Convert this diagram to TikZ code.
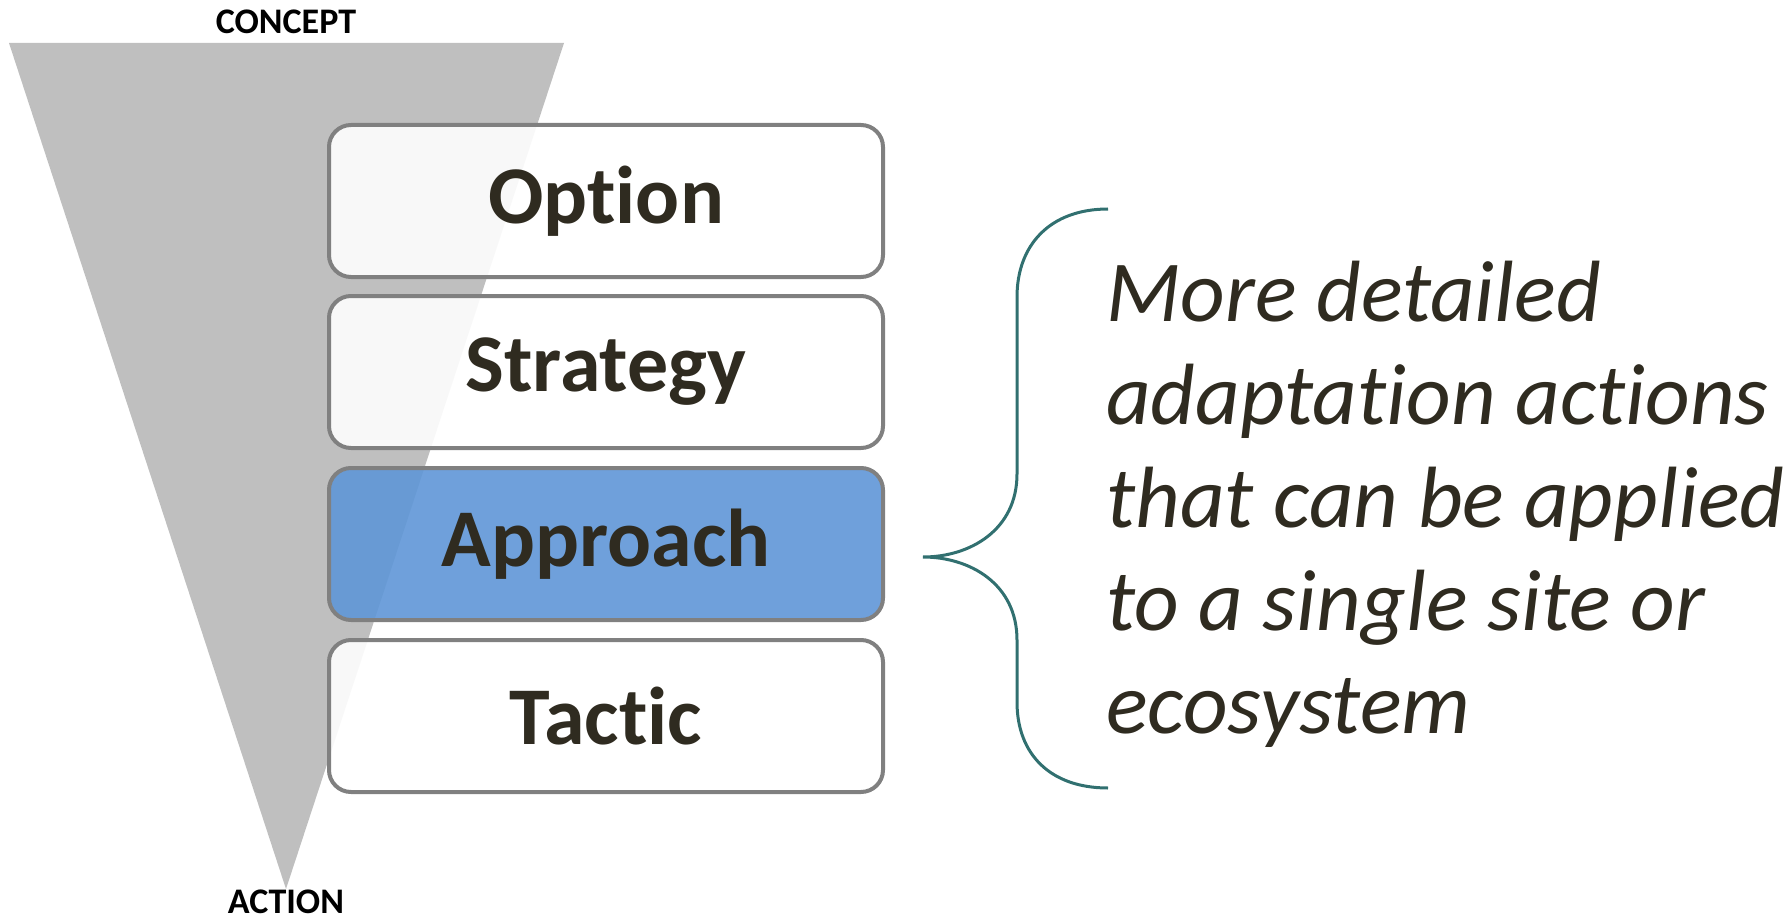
\documentclass[tikz,border=0pt]{standalone}
\usepackage{fontspec}
\setmainfont{Carlito}[Ligatures={NoCommon,NoRequired,NoContextual}]
\definecolor{tri}{RGB}{191,191,191}
\definecolor{boxline}{RGB}{128,128,128}
\definecolor{ink}{RGB}{47,43,32}
\definecolor{bluefill}{RGB}{95,150,215}
\definecolor{teal}{RGB}{49,112,112}
\tikzset{
  levelbox/.style={draw=boxline, line width=4pt, rounded corners=22pt, fill=white,
    fill opacity=0.9, text opacity=1, minimum width=554pt, minimum height=152pt,
    inner sep=0pt, text=ink, font=\fontsize{82}{90}\selectfont\bfseries},
  endlabel/.style={text=black, font=\fontsize{36}{40}\selectfont\bfseries, inner sep=0pt},
  bracestyle/.style={draw=teal, line width=3pt},
  desc/.style={text=ink, font=\fontsize{87}{103}\selectfont\itshape, align=left, inner sep=0pt}
}
\begin{document}
\begin{tikzpicture}[x=1pt,y=-1pt]
\useasboundingbox (0,0) rectangle (1791,920);
% funnel
\fill[tri] (9,43) -- (564,43) -- (286,889) -- cycle;
\node[endlabel, anchor=base] (concept) at (286,34) {CONCEPT};
\node[endlabel, anchor=base] (action) at (286,913) {ACTION};
% level boxes
\node[levelbox] (option) at (606,201) {Option};
\node[levelbox] (strategy) at (606,372) {Strategy};
\node[levelbox, fill=bluefill] (approach) at (606,544) {Approach};
\node[levelbox] (tactic) at (606,716) {Tactic};
% brace
\coordinate (btop) at (1108,209);
\coordinate (btip) at (923,557);
\coordinate (bbot) at (1108,788);
\draw[bracestyle] (btop) .. controls (1050,209) and (1017,245) .. (1017,297)
  -- (1017,474) .. controls (1017,530) and (970,557) .. (btip)
  .. controls (970,557) and (1017,584) .. (1017,640)
  -- (1017,702) .. controls (1017,754) and (1050,788) .. (bbot);
% description
\node[desc, anchor=base west] (text) at (1106,733) {More detailed\\adaptation actions\\that can be applied\\to a single site or\\ecosystem};
\end{tikzpicture}
\end{document}
